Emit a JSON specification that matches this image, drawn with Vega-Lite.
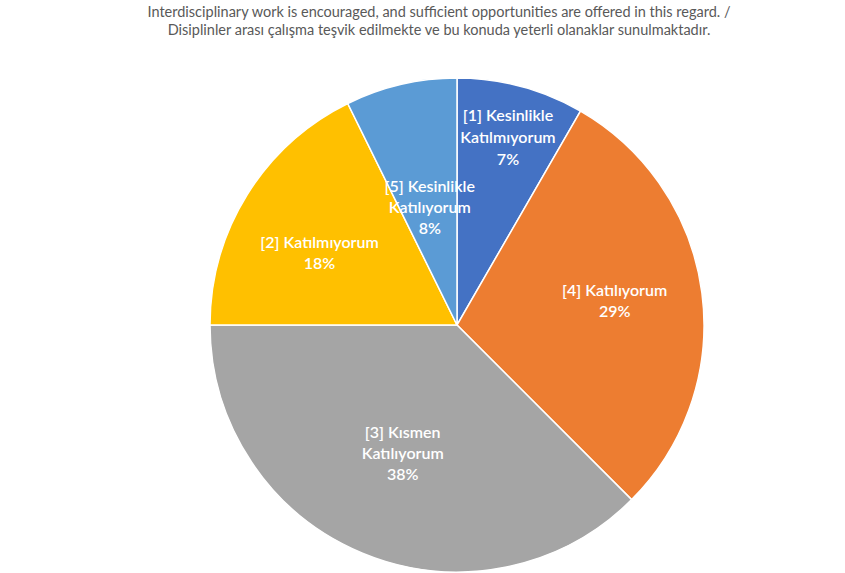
{
  "$schema": "https://vega.github.io/schema/vega-lite/v6.json",
  "autosize": {"type": "none"},
  "padding": {"left": 210, "top": 78, "right": 141, "bottom": 1},
  "width": 494,
  "height": 494,
  "background": "white",
  "title": {
    "text": ["Interdisciplinary work is encouraged, and sufficient opportunities are offered in this regard. /", "Disiplinler arası çalışma teşvik edilmekte ve bu konuda yeterli olanaklar sunulmaktadır."],
    "anchor": "middle",
    "font": "Lato",
    "fontSize": 14.5,
    "fontWeight": "normal",
    "color": "#595959",
    "lineHeight": 18,
    "baseline": "bottom",
    "offset": 23,
    "dx": -18
  },
  "data": {
    "values": [
      {"seq": 1, "category": "[1] Kesinlikle Katılmıyorum", "count": 8, "label": ["[1] Kesinlikle", "Katılmıyorum", "7%"]},
      {"seq": 2, "category": "[4] Katılıyorum", "count": 28, "label": ["[4] Katılıyorum", "29%"]},
      {"seq": 3, "category": "[3] Kısmen Katılıyorum", "count": 36, "label": ["[3] Kısmen", "Katılıyorum", "38%"]},
      {"seq": 4, "category": "[2] Katılmıyorum", "count": 17, "label": ["[2] Katılmıyorum", "18%"]},
      {"seq": 5, "category": "[5] Kesinlikle Katılıyorum", "count": 7, "label": ["[5] Kesinlikle", "Katılıyorum", "8%"]}
    ]
  },
  "encoding": {
    "theta": {"field": "count", "type": "quantitative", "stack": true},
    "order": {"field": "seq", "type": "quantitative"}
  },
  "layer": [
    {
      "mark": {"type": "arc", "stroke": "white", "strokeWidth": 1.5},
      "encoding": {
        "color": {
          "field": "category",
          "type": "nominal",
          "scale": {
            "domain": ["[1] Kesinlikle Katılmıyorum", "[4] Katılıyorum", "[3] Kısmen Katılıyorum", "[2] Katılmıyorum", "[5] Kesinlikle Katılıyorum"],
            "range": ["#4472C4", "#ED7D31", "#A5A5A5", "#FFC000", "#5B9BD5"]
          },
          "legend": null
        }
      }
    },
    {
      "mark": {"type": "text", "radius": 158, "dy": -13, "dx": 1, "font": "Lato", "fontSize": 16, "fontWeight": 600, "color": "white", "lineHeight": 21, "align": "center", "baseline": "middle"},
      "encoding": {
        "text": {"field": "label"},
        "opacity": {"condition": {"test": "datum.seq == 2", "value": 1}, "value": 0}
      }
    },
    {
      "mark": {"type": "text", "radius": 156, "dy": 0, "dx": -5, "font": "Lato", "fontSize": 16, "fontWeight": 600, "color": "white", "lineHeight": 21, "align": "center", "baseline": "middle"},
      "encoding": {
        "text": {"field": "label"},
        "opacity": {"condition": {"test": "datum.seq == 4", "value": 1}, "value": 0}
      }
    },
    {
      "mark": {"type": "text", "radius": 142, "dy": -23, "font": "Lato", "fontSize": 16, "fontWeight": 600, "color": "white", "lineHeight": 21, "align": "center", "baseline": "middle"},
      "encoding": {
        "text": {"field": "label"},
        "opacity": {"condition": {"test": "datum.seq == 3", "value": 1}, "value": 0}
      }
    },
    {
      "mark": {"type": "text", "radius": 197, "dy": -19, "font": "Lato", "fontSize": 16, "fontWeight": 600, "color": "white", "lineHeight": 22, "align": "center", "baseline": "middle"},
      "encoding": {
        "text": {"field": "label"},
        "opacity": {"condition": {"test": "datum.seq == 1", "value": 1}, "value": 0}
      }
    },
    {
      "mark": {"type": "text", "radius": 120, "dy": -21, "font": "Lato", "fontSize": 16, "fontWeight": 600, "color": "white", "lineHeight": 21, "align": "center", "baseline": "middle"},
      "encoding": {
        "text": {"field": "label"},
        "opacity": {"condition": {"test": "datum.seq == 5", "value": 1}, "value": 0}
      }
    }
  ],
  "view": {"stroke": null}
}
